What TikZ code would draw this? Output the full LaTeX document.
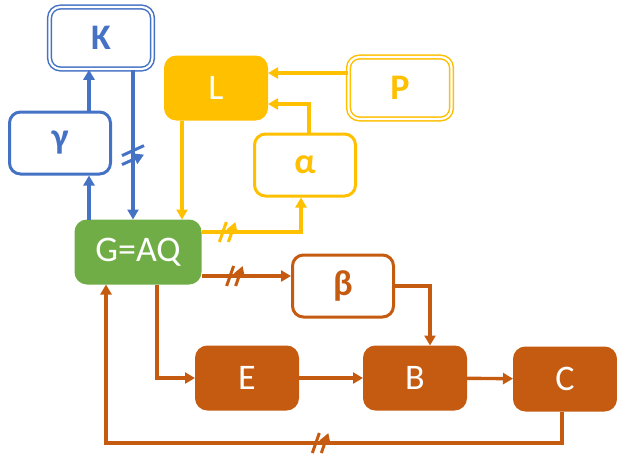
\documentclass[tikz,border=0pt]{standalone}
\usepackage{fontspec}
\setmainfont{Carlito}
\usetikzlibrary{arrows.meta,positioning,calc}
\definecolor{kblue}{HTML}{4472C4}
\definecolor{kyellow}{HTML}{FFC000}
\definecolor{kgreen}{HTML}{70AD47}
\definecolor{korange}{HTML}{C55A11}

\begin{document}
\begin{tikzpicture}[x=1pt,y=-1pt,
  box/.style={rounded corners=11pt, minimum width=101pt, minimum height=62pt,
    line width=3pt, inner sep=0pt, font=\fontsize{36}{40}\selectfont},
  openbox/.style={box, draw=#1, fill=white, text=#1, font=\fontsize{36}{40}\selectfont\bfseries},
  fullbox/.style={box, draw=#1, fill=#1, text=white},
  twoline/.style={line width=1.5pt, double distance=2.2pt, double=white,
    minimum width=103pt, minimum height=62pt},
  link/.style={draw=#1, line width=3.4pt, -{Triangle[length=10pt,width=11pt]}},
  hcut/.pic={\draw[line width=3pt] (-8,10) -- (-1,-10) (1,10) -- (8,-10);},
  vcut/.pic={\draw[line width=3pt] (-11,2) -- (11,-8) (-11,11) -- (11,1);}
]
\useasboundingbox (0,0) rectangle (617,458);

% blue part
\node[openbox=kblue, twoline] (kappa) at (101,38) {K};
\node[openbox=kblue] (gamma) at (60,143) {γ};

% yellow part
\node[fullbox=kyellow] (L) at (216,88) {L};
\node[openbox=kyellow, twoline] (rho) at (400,88) {P};
\node[openbox=kyellow] (alpha) at (305,165) {α};

% center
\node[fullbox=kgreen, minimum width=124pt] (G) at (138,252) {G=AQ};

% orange part
\node[openbox=korange] (beta) at (343,286) {β};
\node[fullbox=korange] (E) at (247,378) {E};
\node[fullbox=korange] (B) at (415,378) {B};
\node[fullbox=korange] (C) at (565,379) {C};

% columns and rows for the connectors
\coordinate (c1) at (89,0);
\coordinate (c2) at (133,0);
\coordinate (c3) at (182,0);
\coordinate (c4) at (301,0);
\coordinate (c5) at (309,0);
\coordinate (c6) at (430,0);
\coordinate (c7) at (157,0);
\coordinate (c8) at (562,0);
\coordinate (c9) at (106,0);
\coordinate (r1) at (0,232);
\coordinate (r2) at (0,276);
\coordinate (r3) at (0,104);
\coordinate (r4) at (0,73);
\coordinate (r5) at (0,443);

\draw[link=kblue] (G.north -| c1) -- (gamma.south -| c1);
\draw[link=kblue] (gamma.north -| c1) -- (kappa.south -| c1);
\draw[link=kblue] (kappa.south -| c2) -- pic[kblue, pos=0.56]{vcut} (G.north -| c2);

\draw[link=kyellow] (L.south -| c3) -- (G.north -| c3);
\draw[link=kyellow] (G.east |- r1) -- pic[kyellow, pos=0.26]{hcut} (c4 |- r1) -- (alpha.south -| c4);
\draw[link=kyellow] (alpha.north -| c5) |- (L.east |- r3);
\draw[link=kyellow] (rho.west |- r4) -- (L.east |- r4);

\draw[link=korange] (G.east |- r2) -- pic[korange, pos=0.37]{hcut} (beta.west |- r2);
\draw[link=korange] (beta.east) -| (B.north -| c6);
\draw[link=korange] (G.south -| c7) |- (E.west);
\draw[link=korange] (E) -- (B);
\draw[link=korange] (B) -- (C);
\draw[link=korange] (C.south -| c8) -- (c8 |- r5) -- pic[korange, pos=0.53]{hcut} (c9 |- r5) -- (G.south -| c9);
\end{tikzpicture}
\end{document}
